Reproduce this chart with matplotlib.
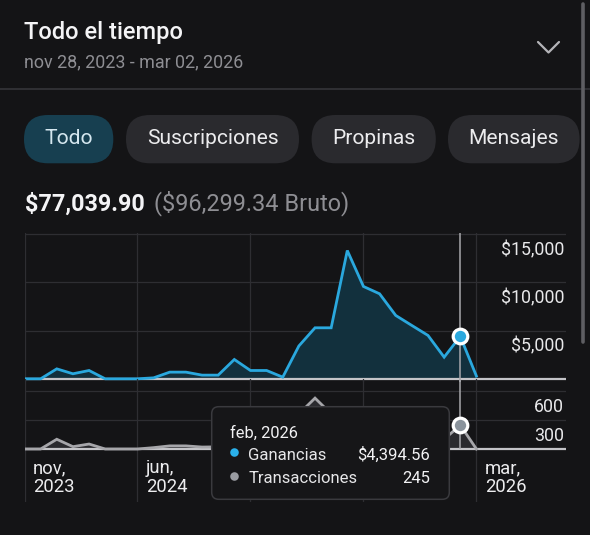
import matplotlib
matplotlib.use('Agg')
import matplotlib.pyplot as plt
from matplotlib import transforms
from matplotlib.patches import FancyBboxPatch
import numpy as np

plt.rcParams['font.family'] = ['Roboto', 'DejaVu Sans']

# ---------------- data ----------------
months = ['nov, 2023', 'dic, 2023', 'ene, 2024', 'feb, 2024', 'mar, 2024', 'abr, 2024',
          'may, 2024', 'jun, 2024', 'jul, 2024', 'ago, 2024', 'sep, 2024', 'oct, 2024',
          'nov, 2024', 'dic, 2024', 'ene, 2025', 'feb, 2025', 'mar, 2025', 'abr, 2025',
          'may, 2025', 'jun, 2025', 'jul, 2025', 'ago, 2025', 'sep, 2025', 'oct, 2025',
          'nov, 2025', 'dic, 2025', 'ene, 2026', 'feb, 2026', 'mar, 2026']
ganancias = [0, 0, 1030, 520, 860, 0, 0, 0, 100, 690, 690, 380, 380, 2000, 860,
             860, 170, 3400, 5280, 5280, 13280, 9560, 8800, 6560, 5520, 4490, 2240,
             4394.56, 280]
transacciones = [0, 0, 100, 24, 51, 0, 0, 0, 14, 32, 32, 20, 22, 70, 35,
                 35, 12, 360, 522, 360, 400, 300, 260, 220, 190, 160, 100,
                 245, 0]
grid_idx = [0, 7, 14, 21, 28]
label_idx = [0, 7, 28]          # the jan/aug 2025 labels are hidden by the tooltip
label_month = ['nov,', 'jun,', 'mar,']
label_year = ['2023', '2024', '2026']
y1_ticks = [5000, 10000, 15000]
y1_labels = ['$5,000', '$10,000', '$15,000']
y2_ticks = [300, 600]
y2_labels = ['300', '600']
sel = 27
tabs = ['Todo', 'Suscripciones', 'Propinas', 'Mensajes']
neto = '$77,039.90'
bruto = '($96,299.34 Bruto)'

# ---------------- style ----------------
BG = '#141416'
GRID = '#2e2e32'
BASE = '#c4c4c8'
BLUE = '#2aa8de'
BLUE_FILL = '#12303d'
GRAY = '#a6a6aa'
GRAY_FILL = '#2a2a2e'
W, H = 590, 535
x = np.arange(len(months))

fig = plt.figure(figsize=(W / 100, H / 100), dpi=100, facecolor=BG)


def frac(x0, y0, x1, y1):
    return [x0 / W, 1 - y1 / H, (x1 - x0) / W, (y1 - y0) / H]


ax = fig.add_axes(frac(24.5, 233.3, 566, 382))
ax2 = fig.add_axes(frac(24.5, 379, 566, 501.7))
ov = fig.add_axes([0, 0, 1, 1], zorder=10)
ov.set_xlim(0, W)
ov.set_ylim(H, 0)
ov.axis('off')
ov.patch.set_alpha(0)

for a in (ax, ax2):
    a.set_facecolor('none')
    for s in a.spines.values():
        s.set_visible(False)
    a.set_xlim(0, 33.55)
    a.set_xticks(grid_idx)
    a.tick_params(length=0, labelbottom=False, labelleft=False)
    a.grid(True, color=GRID, lw=0.9)
    a.set_axisbelow(True)

# top chart: earnings
ax.set_ylim(-331, 15062)
ax.set_yticks(y1_ticks)
ax.axhline(0, color=BASE, lw=1.6, zorder=2)
ax.fill_between(x, 0, ganancias, color=BLUE_FILL, lw=0, zorder=1)
ax.plot(x, ganancias, color=BLUE, lw=2.0, solid_joinstyle='miter', zorder=3)
ax.axvline(sel, color='#a8a8ac', lw=1.1, zorder=2.5)
ax.plot([sel], [ganancias[sel]], 'o', ms=10.5, mfc=BLUE, mec='white', mew=2.3, zorder=5,
        clip_on=False)

# bottom chart: transactions
ax2.set_ylim(-540.5, 718)
ax2.set_yticks(y2_ticks)
ax2.axhline(0, color=BASE, lw=1.6, zorder=2)
ax2.fill_between(x, 0, transacciones, color=GRAY_FILL, lw=0, zorder=1)
ax2.plot(x, transacciones, color=GRAY, lw=2.0, solid_joinstyle='miter', zorder=3)
ax2.vlines(sel, 0, 718, color='#a8a8ac', lw=1.1, zorder=2.5)
ax2.plot([sel], [transacciones[sel]], 'o', ms=10.5, mfc='#8a939c', mec='white', mew=2.3,
         zorder=5, clip_on=False)

# y labels (inside, right, below gridlines)
off_y = transforms.ScaledTranslation(0, -21.2 / 100, fig.dpi_scale_trans)
t1 = transforms.blended_transform_factory(ov.transData, ax.transData) + off_y
for v, lab in zip(y1_ticks, y1_labels):
    ov.text(564.3, v, lab, transform=t1, ha='right', va='baseline', fontsize=12.8,
            color='#e8e8ea')
t2 = transforms.blended_transform_factory(ov.transData, ax2.transData) + off_y
for v, lab in zip(y2_ticks, y2_labels):
    ov.text(564.3, v, lab, transform=t2, ha='right', va='baseline', fontsize=12.8,
            color='#e8e8ea')

# x labels
off_x = transforms.ScaledTranslation(8.5 / 100, 0, fig.dpi_scale_trans)
tx = transforms.blended_transform_factory(ax2.transData, ov.transData) + off_x
for i, m, yr in zip(label_idx, label_month, label_year):
    ov.text(i, 473.3, m, transform=tx, ha='left', va='baseline', fontsize=13.3,
            color='#ececee', zorder=1)
    ov.text(i, 491.7, yr, transform=tx, ha='left', va='baseline', fontsize=13.3,
            color='#ececee', zorder=1)

# ---------------- header ----------------
ov.text(24.5, 39.5, 'Todo el tiempo', fontsize=17, fontweight='medium', color='#f4f4f6',
        ha='left', va='baseline')
ov.text(24.5, 67.7, 'nov 28, 2023 - mar 02, 2026', fontsize=12.9, color='#8e8e93',
        ha='left', va='baseline')
ov.plot([538, 548.5, 559], [42, 52.5, 42], color='#b4b4b8', lw=1.6, solid_capstyle='round')
ov.plot([0, W], [89.3, 89.3], color='#38383c', lw=1.1)
ov.plot([583.3, 583.3], [4, 342], color='#5e5e62', lw=2.6, solid_capstyle='round')

pill_x = [(24, 113.3), (126, 299), (311.6, 435.8), (448, 579.6)]
for k, (name, (px0, px1)) in enumerate(zip(tabs, pill_x)):
    active = k == 0
    ov.add_patch(FancyBboxPatch((px0, 115), px1 - px0, 48.3,
                                boxstyle='round,pad=0,rounding_size=24',
                                fc='#173f50' if active else '#2a2a2e', ec='none'))
    ov.text((px0 + px1) / 2, 144.3, name, fontsize=15.1, ha='center', va='baseline',
            color='#d5e7ef' if active else '#ececee')

ov.text(24.5, 210.7, neto, fontsize=16.8, fontweight='bold', color='#f4f4f6',
        ha='left', va='baseline')
ov.text(153.6, 210.7, bruto, fontsize=16.9, color='#8e8e93', ha='left', va='baseline')

# ---------------- tooltip ----------------
ov.add_patch(FancyBboxPatch((211.7, 406.7), 237.6, 92.6,
                            boxstyle='round,pad=0,rounding_size=7',
                            fc='#161618', ec='#3a3a3e', lw=1.1, zorder=5))
ov.text(230, 437.7, months[sel], fontsize=11.8, color='#f2f2f4', ha='left',
        va='baseline', zorder=6)
ov.scatter([234.3], [452.3], s=38, color='#2ab0ea', zorder=6, lw=0)
ov.scatter([234.3], [475.5], s=38, color='#9a9ca2', zorder=6, lw=0)
ov.text(248.3, 460.3, 'Ganancias', fontsize=12, color='#e6e6e8', ha='left',
        va='baseline', zorder=6)
ov.text(248.3, 483, 'Transacciones', fontsize=12, color='#e6e6e8', ha='left',
        va='baseline', zorder=6)
ov.text(430, 460.3, f'${ganancias[sel]:,.2f}', fontsize=12, color='#f2f2f4', ha='right',
        va='baseline', zorder=6)
ov.text(430, 483, f'{transacciones[sel]}', fontsize=12, color='#f2f2f4', ha='right',
        va='baseline', zorder=6)

fig.savefig('out.png', dpi=100, facecolor=BG)
